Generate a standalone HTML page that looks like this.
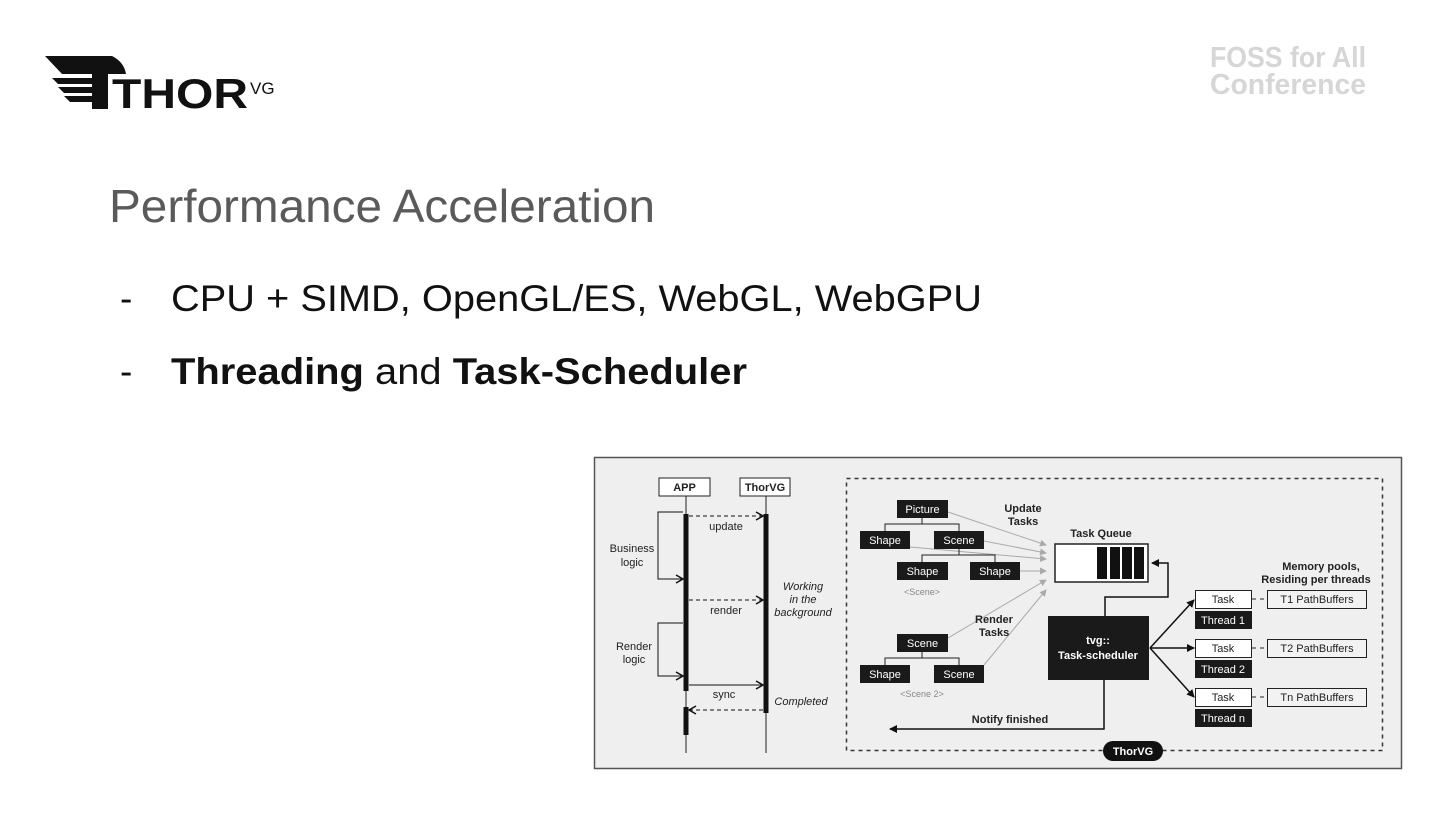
<!DOCTYPE html>
<html><head><meta charset="utf-8"><style>
html,body{margin:0;padding:0;background:#fff;}
body{width:1440px;height:810px;overflow:hidden;position:relative;font-family:"Liberation Sans",sans-serif;}
</style></head><body>
<svg width="1440" height="810" viewBox="0 0 1440 810" xmlns="http://www.w3.org/2000/svg" font-family="Liberation Sans, sans-serif">
<defs>
<marker id="ah" markerWidth="8" markerHeight="8" refX="7" refY="4" orient="auto" markerUnits="userSpaceOnUse"><path d="M0,0 L8,4 L0,8 z" fill="#111"/></marker>
<marker id="ao" markerWidth="10" markerHeight="10" refX="8" refY="5" orient="auto" markerUnits="userSpaceOnUse"><path d="M1,1 L8,5 L1,9" fill="none" stroke="#111" stroke-width="1.5"/></marker>
<marker id="ag" markerWidth="7" markerHeight="7" refX="6" refY="3.5" orient="auto" markerUnits="userSpaceOnUse"><path d="M0,0 L7,3.5 L0,7 z" fill="#aaa"/></marker>
</defs>
<!-- logo -->
<g fill="#111">
<path d="M45,56 L112,56 Q124,62 126,74 L62,74 Z"/>
<path d="M52,78 L92,78 L92,84 L58,84 Z"/>
<path d="M58,87 L92,87 L92,93 L64,93 Z"/>
<path d="M64,96 L92,96 L92,102 L70,102 Z"/>
<rect x="92" y="74" width="16" height="35"/>
</g>
<text x="112" y="108" font-size="42" font-weight="bold" fill="#111" textLength="136" lengthAdjust="spacingAndGlyphs">THOR</text>
<text x="250" y="94" font-size="17" fill="#111">VG</text>
<text x="1288" y="67" font-size="29" font-weight="bold" fill="#d6d6d6" text-anchor="middle" textLength="156" lengthAdjust="spacingAndGlyphs">FOSS for All</text>
<text x="1288" y="94" font-size="29" font-weight="bold" fill="#d6d6d6" text-anchor="middle" textLength="156" lengthAdjust="spacingAndGlyphs">Conference</text>
<text x="109" y="222" font-size="46" fill="#5a5a5a" textLength="546" lengthAdjust="spacingAndGlyphs">Performance Acceleration</text>
<text x="120" y="311" font-size="37" fill="#111">-</text>
<text x="171" y="311" font-size="37" fill="#111" textLength="811" lengthAdjust="spacingAndGlyphs">CPU + SIMD, OpenGL/ES, WebGL, WebGPU</text>
<text x="120" y="384" font-size="37" fill="#111">-</text>
<text x="171" y="384" font-size="37" fill="#111" textLength="576" lengthAdjust="spacingAndGlyphs"><tspan font-weight="bold">Threading</tspan> and <tspan font-weight="bold">Task-Scheduler</tspan></text>

<!-- diagram -->
<rect x="594.5" y="457.5" width="807" height="311" fill="#efefef" stroke="#555" stroke-width="1.5"/>
<g font-size="11" fill="#222">
<rect x="659" y="478" width="51" height="18" fill="#fff" stroke="#222"/>
<text x="684.5" y="491" text-anchor="middle" font-weight="bold">APP</text>
<rect x="740" y="478" width="50" height="18" fill="#fff" stroke="#222"/>
<text x="765" y="491" text-anchor="middle" font-weight="bold">ThorVG</text>
<line x1="686" y1="496" x2="686" y2="753" stroke="#222"/>
<line x1="766" y1="496" x2="766" y2="753" stroke="#222"/>
<rect x="683.5" y="514" width="5" height="177" fill="#111"/>
<rect x="683.5" y="707" width="5" height="28" fill="#111"/>
<rect x="763.5" y="514" width="5" height="199" fill="#111"/>
<line x1="689" y1="516" x2="763" y2="516" stroke="#111" stroke-dasharray="4,3" marker-end="url(#ao)"/>
<text x="726" y="530" text-anchor="middle">update</text>
<path d="M683,512 L658,512 L658,579 L683,579" fill="none" stroke="#111" marker-end="url(#ao)"/>
<text x="632" y="552" text-anchor="middle">Business</text>
<text x="632" y="566" text-anchor="middle">logic</text>
<line x1="689" y1="600" x2="763" y2="600" stroke="#111" stroke-dasharray="4,3" marker-end="url(#ao)"/>
<text x="726" y="614" text-anchor="middle">render</text>
<path d="M683,623 L658,623 L658,676 L683,676" fill="none" stroke="#111" marker-end="url(#ao)"/>
<text x="634" y="650" text-anchor="middle">Render</text>
<text x="634" y="663" text-anchor="middle">logic</text>
<line x1="689" y1="685" x2="763" y2="685" stroke="#111" marker-end="url(#ao)"/>
<text x="724" y="698" text-anchor="middle">sync</text>
<line x1="763" y1="710" x2="689" y2="710" stroke="#111" stroke-dasharray="4,3" marker-end="url(#ao)"/>
<g font-style="italic" text-anchor="middle">
<text x="803" y="590">Working</text><text x="803" y="603">in the</text><text x="803" y="616">background</text>
<text x="801" y="705">Completed</text>
</g>
<rect x="846.5" y="478.5" width="536" height="272" fill="none" stroke="#333" stroke-width="1.5" stroke-dasharray="4,4"/>
<rect x="1103" y="741" width="60" height="20" rx="10" fill="#111"/>
<text x="1133" y="755" text-anchor="middle" fill="#fff" font-weight="bold">ThorVG</text>
<g stroke="#aaa" stroke-width="1" marker-end="url(#ag)">
<line x1="948" y1="512" x2="1046" y2="545"/>
<line x1="984" y1="541" x2="1046" y2="553"/>
<line x1="910" y1="547" x2="1046" y2="559"/>
<line x1="1020" y1="571" x2="1046" y2="571"/>
<line x1="948" y1="638" x2="1046" y2="580"/>
<line x1="984" y1="665" x2="1046" y2="590"/>
</g>
<g stroke="#222" fill="none">
<path d="M922,518 V524 M885,531 V524 H959 V531"/>
<path d="M959,549 V555 M922,562 V555 H995 V562"/>
<path d="M922,652 V658 M885,665 V658 H959 V665"/>
</g>
<g fill="#1a1a1a">
<rect x="897" y="500" width="51" height="18"/><rect x="860" y="531" width="50" height="18"/><rect x="934" y="531" width="50" height="18"/>
<rect x="897" y="562" width="51" height="18"/><rect x="970" y="562" width="50" height="18"/>
<rect x="897" y="634" width="51" height="18"/><rect x="860" y="665" width="50" height="18"/><rect x="934" y="665" width="50" height="18"/>
</g>
<g fill="#fff" text-anchor="middle">
<text x="922.5" y="513">Picture</text><text x="885" y="544">Shape</text><text x="959" y="544">Scene</text>
<text x="922.5" y="575">Shape</text><text x="995" y="575">Shape</text>
<text x="922.5" y="647">Scene</text><text x="885" y="678">Shape</text><text x="959" y="678">Scene</text>
</g>
<text x="922" y="595" font-size="9" fill="#888" text-anchor="middle">&lt;Scene&gt;</text>
<text x="922" y="697" font-size="9" fill="#888" text-anchor="middle">&lt;Scene 2&gt;</text>
<g font-weight="bold" text-anchor="middle">
<text x="1023" y="512">Update</text><text x="1023" y="525">Tasks</text>
<text x="994" y="623">Render</text><text x="994" y="636">Tasks</text>
<text x="1101" y="537">Task Queue</text>
<text x="1321" y="570">Memory pools,</text><text x="1316" y="583">Residing per threads</text>
<text x="1010" y="723">Notify finished</text>
</g>
<rect x="1055" y="544" width="93" height="38" fill="#fff" stroke="#222" stroke-width="1.5"/>
<rect x="1097" y="547" width="10" height="32" fill="#111"/><rect x="1110" y="547" width="10" height="32" fill="#111"/>
<rect x="1122" y="547" width="10" height="32" fill="#111"/><rect x="1134" y="547" width="10" height="32" fill="#111"/>
<path d="M1105,616 V597 H1168 V563 H1152" fill="none" stroke="#111" stroke-width="1.5" marker-end="url(#ah)"/>
<path d="M1104,680 V729 H890" fill="none" stroke="#111" stroke-width="1.5" marker-end="url(#ah)"/>
<rect x="1048" y="616" width="101" height="64" fill="#1a1a1a"/>
<text x="1098" y="644" fill="#fff" font-weight="bold" text-anchor="middle">tvg::</text>
<text x="1098" y="659" fill="#fff" font-weight="bold" text-anchor="middle">Task-scheduler</text>
<g stroke="#111" stroke-width="1.5" marker-end="url(#ah)">
<line x1="1150" y1="648" x2="1194" y2="600"/>
<line x1="1150" y1="648" x2="1194" y2="648"/>
<line x1="1150" y1="648" x2="1194" y2="697"/>
</g>
<g stroke="#222">
<rect x="1195.5" y="590.5" width="56" height="18" fill="#fff"/><rect x="1195.5" y="639.5" width="56" height="18" fill="#fff"/><rect x="1195.5" y="688.5" width="56" height="18" fill="#fff"/>
<rect x="1267.5" y="590.5" width="99" height="18" fill="#f2f2f2"/><rect x="1267.5" y="639.5" width="99" height="18" fill="#f2f2f2"/><rect x="1267.5" y="688.5" width="99" height="18" fill="#f2f2f2"/>
<line x1="1252" y1="599" x2="1267" y2="599" stroke-dasharray="4,4"/><line x1="1252" y1="648" x2="1267" y2="648" stroke-dasharray="4,4"/><line x1="1252" y1="697" x2="1267" y2="697" stroke-dasharray="4,4"/>
</g>
<rect x="1195" y="611" width="57" height="18" fill="#1a1a1a"/><rect x="1195" y="660" width="57" height="18" fill="#1a1a1a"/><rect x="1195" y="709" width="57" height="18" fill="#1a1a1a"/>
<g text-anchor="middle">
<text x="1223" y="603">Task</text><text x="1223" y="652">Task</text><text x="1223" y="701">Task</text>
<text x="1317" y="603">T1 PathBuffers</text><text x="1317" y="652">T2 PathBuffers</text><text x="1317" y="701">Tn PathBuffers</text>
<text x="1223" y="624" fill="#fff">Thread 1</text><text x="1223" y="673" fill="#fff">Thread 2</text><text x="1223" y="722" fill="#fff">Thread n</text>
</g>
</g>
</svg>
</body></html>
